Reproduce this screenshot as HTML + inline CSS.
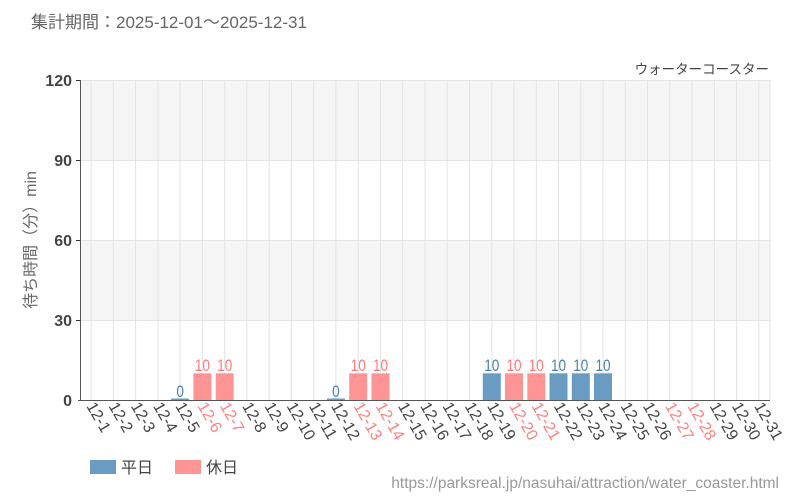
<!DOCTYPE html>
<html><head><meta charset="utf-8"><style>
body{margin:0;background:#fff;}
svg{display:block;font-family:"Liberation Sans","Noto Sans CJK JP",sans-serif;}
</style></head><body>
<svg width="800" height="500" xmlns="http://www.w3.org/2000/svg">
<text x="31" y="28" font-size="17" fill="#666">集計期間：2025-12-01～2025-12-31</text>
<text x="769" y="74" font-size="13.5" fill="#444" text-anchor="end">ウォーターコースター</text>
<rect x="80" y="80" width="690" height="80" fill="#f5f5f5"/>
<rect x="80" y="240" width="690" height="80" fill="#f5f5f5"/>
<g stroke="#e3e3e3" stroke-width="1">
<line x1="80" y1="80.5" x2="770" y2="80.5"/><line x1="80" y1="160.5" x2="770" y2="160.5"/><line x1="80" y1="240.5" x2="770" y2="240.5"/><line x1="80" y1="320.5" x2="770" y2="320.5"/>
<line x1="91.1" y1="80" x2="91.1" y2="400"/><line x1="113.4" y1="80" x2="113.4" y2="400"/><line x1="135.6" y1="80" x2="135.6" y2="400"/><line x1="157.9" y1="80" x2="157.9" y2="400"/><line x1="180.1" y1="80" x2="180.1" y2="400"/><line x1="202.4" y1="80" x2="202.4" y2="400"/><line x1="224.7" y1="80" x2="224.7" y2="400"/><line x1="246.9" y1="80" x2="246.9" y2="400"/><line x1="269.2" y1="80" x2="269.2" y2="400"/><line x1="291.4" y1="80" x2="291.4" y2="400"/><line x1="313.7" y1="80" x2="313.7" y2="400"/><line x1="335.9" y1="80" x2="335.9" y2="400"/><line x1="358.2" y1="80" x2="358.2" y2="400"/><line x1="380.5" y1="80" x2="380.5" y2="400"/><line x1="402.7" y1="80" x2="402.7" y2="400"/><line x1="425" y1="80" x2="425" y2="400"/><line x1="447.2" y1="80" x2="447.2" y2="400"/><line x1="469.5" y1="80" x2="469.5" y2="400"/><line x1="491.8" y1="80" x2="491.8" y2="400"/><line x1="514" y1="80" x2="514" y2="400"/><line x1="536.3" y1="80" x2="536.3" y2="400"/><line x1="558.5" y1="80" x2="558.5" y2="400"/><line x1="580.8" y1="80" x2="580.8" y2="400"/><line x1="603" y1="80" x2="603" y2="400"/><line x1="625.3" y1="80" x2="625.3" y2="400"/><line x1="647.6" y1="80" x2="647.6" y2="400"/><line x1="669.8" y1="80" x2="669.8" y2="400"/><line x1="692.1" y1="80" x2="692.1" y2="400"/><line x1="714.3" y1="80" x2="714.3" y2="400"/><line x1="736.6" y1="80" x2="736.6" y2="400"/><line x1="758.9" y1="80" x2="758.9" y2="400"/><line x1="770" y1="80" x2="770" y2="400"/>
</g>
<g>
<rect x="171.1" y="398.5" width="18" height="1.5" fill="#6a9bc3"/>
<rect x="193.4" y="373.3" width="18" height="26.7" fill="#ff9494"/>
<rect x="215.7" y="373.3" width="18" height="26.7" fill="#ff9494"/>
<rect x="326.9" y="398.5" width="18" height="1.5" fill="#6a9bc3"/>
<rect x="349.2" y="373.3" width="18" height="26.7" fill="#ff9494"/>
<rect x="371.5" y="373.3" width="18" height="26.7" fill="#ff9494"/>
<rect x="482.8" y="373.3" width="18" height="26.7" fill="#6a9bc3"/>
<rect x="505" y="373.3" width="18" height="26.7" fill="#ff9494"/>
<rect x="527.3" y="373.3" width="18" height="26.7" fill="#ff9494"/>
<rect x="549.5" y="373.3" width="18" height="26.7" fill="#6a9bc3"/>
<rect x="571.8" y="373.3" width="18" height="26.7" fill="#6a9bc3"/>
<rect x="594" y="373.3" width="18" height="26.7" fill="#6a9bc3"/>
</g>
<g font-size="17" text-anchor="middle">
<text transform="translate(180.1,397) scale(0.8,1)" fill="#4a80b0">0</text>
<text transform="translate(202.4,371) scale(0.8,1)" fill="#ff7a7a">10</text>
<text transform="translate(224.7,371) scale(0.8,1)" fill="#ff7a7a">10</text>
<text transform="translate(335.9,397) scale(0.8,1)" fill="#4a80b0">0</text>
<text transform="translate(358.2,371) scale(0.8,1)" fill="#ff7a7a">10</text>
<text transform="translate(380.5,371) scale(0.8,1)" fill="#ff7a7a">10</text>
<text transform="translate(491.8,371) scale(0.8,1)" fill="#4a80b0">10</text>
<text transform="translate(514,371) scale(0.8,1)" fill="#ff7a7a">10</text>
<text transform="translate(536.3,371) scale(0.8,1)" fill="#ff7a7a">10</text>
<text transform="translate(558.5,371) scale(0.8,1)" fill="#4a80b0">10</text>
<text transform="translate(580.8,371) scale(0.8,1)" fill="#4a80b0">10</text>
<text transform="translate(603,371) scale(0.8,1)" fill="#4a80b0">10</text>
</g>
<line x1="80.5" y1="80" x2="80.5" y2="400" stroke="#555"/>
<line x1="78" y1="400.5" x2="770" y2="400.5" stroke="#555"/>
<g stroke="#333"><line x1="76" y1="80.5" x2="80" y2="80.5"/><line x1="76" y1="160.5" x2="80" y2="160.5"/><line x1="76" y1="240.5" x2="80" y2="240.5"/><line x1="76" y1="320.5" x2="80" y2="320.5"/></g>
<g font-size="16" fill="#444" text-anchor="end" font-weight="bold">
<text x="72" y="86">120</text><text x="72" y="166">90</text><text x="72" y="246">60</text><text x="72" y="326">30</text><text x="72" y="406">0</text>
</g>
<text transform="translate(36,240) rotate(-90)" font-size="16" fill="#666" text-anchor="middle">待ち時間（分）min</text>
<g font-size="16" fill="#444">
<text transform="translate(86,406) rotate(60)">12-1</text>
<text transform="translate(108.3,406) rotate(60)">12-2</text>
<text transform="translate(130.5,406) rotate(60)">12-3</text>
<text transform="translate(152.8,406) rotate(60)">12-4</text>
<text transform="translate(175,406) rotate(60)">12-5</text>
<text transform="translate(197.3,406) rotate(60)" fill="#ff8080">12-6</text>
<text transform="translate(219.6,406) rotate(60)" fill="#ff8080">12-7</text>
<text transform="translate(241.8,406) rotate(60)">12-8</text>
<text transform="translate(264.1,406) rotate(60)">12-9</text>
<text transform="translate(286.3,406) rotate(60)">12-10</text>
<text transform="translate(308.6,406) rotate(60)">12-11</text>
<text transform="translate(330.8,406) rotate(60)">12-12</text>
<text transform="translate(353.1,406) rotate(60)" fill="#ff8080">12-13</text>
<text transform="translate(375.4,406) rotate(60)" fill="#ff8080">12-14</text>
<text transform="translate(397.6,406) rotate(60)">12-15</text>
<text transform="translate(419.9,406) rotate(60)">12-16</text>
<text transform="translate(442.1,406) rotate(60)">12-17</text>
<text transform="translate(464.4,406) rotate(60)">12-18</text>
<text transform="translate(486.7,406) rotate(60)">12-19</text>
<text transform="translate(508.9,406) rotate(60)" fill="#ff8080">12-20</text>
<text transform="translate(531.2,406) rotate(60)" fill="#ff8080">12-21</text>
<text transform="translate(553.4,406) rotate(60)">12-22</text>
<text transform="translate(575.7,406) rotate(60)">12-23</text>
<text transform="translate(597.9,406) rotate(60)">12-24</text>
<text transform="translate(620.2,406) rotate(60)">12-25</text>
<text transform="translate(642.5,406) rotate(60)">12-26</text>
<text transform="translate(664.7,406) rotate(60)" fill="#ff8080">12-27</text>
<text transform="translate(687,406) rotate(60)" fill="#ff8080">12-28</text>
<text transform="translate(709.2,406) rotate(60)">12-29</text>
<text transform="translate(731.5,406) rotate(60)">12-30</text>
<text transform="translate(753.8,406) rotate(60)">12-31</text>
</g>
<rect x="90" y="460" width="26" height="14" fill="#6a9bc3"/>
<text x="121" y="473" font-size="16" fill="#444">平日</text>
<rect x="175" y="460" width="26" height="14" fill="#ff9494"/>
<text x="206" y="473" font-size="16" fill="#444">休日</text>
<text x="779" y="488" font-size="15.5" fill="#999" text-anchor="end">https://parksreal.jp/nasuhai/attraction/water_coaster.html</text>
</svg>
</body></html>
